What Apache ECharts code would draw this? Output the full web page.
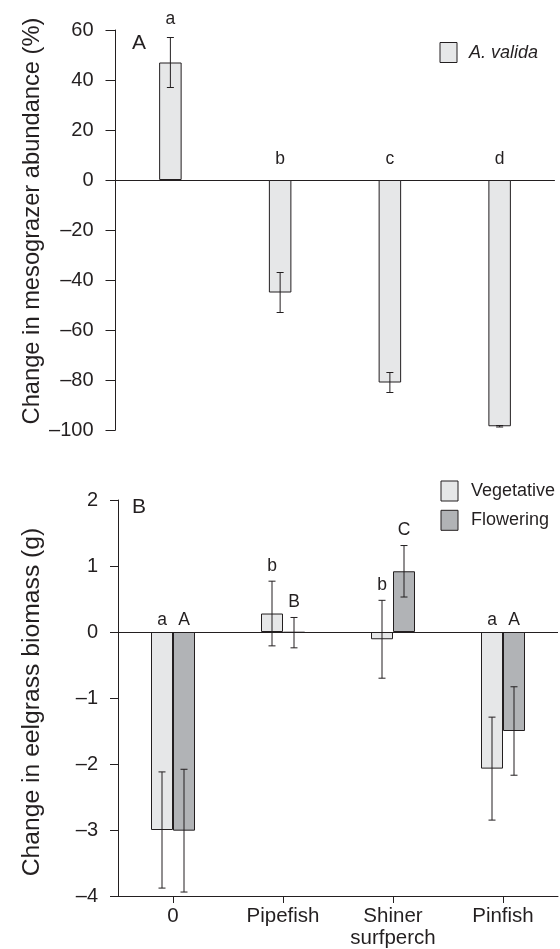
<!DOCTYPE html>
<html>
<head>
<meta charset="utf-8">
<script src="https://cdn.jsdelivr.net/npm/echarts@6/dist/echarts.min.js"></script>
<style>html,body{margin:0;padding:0;background:#fff}#c{width:560px;height:949px}</style>
</head>
<body>
<div id="c"></div>
<script>
// ---- data ----
const categories = ['0', 'Pipefish', 'Shiner\nsurfperch', 'Pinfish'];
const yTicksA = [-100, -80, -60, -40, -20, 0, 20, 40, 60];
const yTicksB = [-4, -3, -2, -1, 0, 1, 2];
const validaValues = [47, -45, -81, -98.5];
const validaErrors = [10, 8, 4, 0.3];
const validaLetters = ['a', 'b', 'c', 'd'];
const vegValues = [-3.0, 0.28, -0.11, -2.07];
const vegErrors = [0.88, 0.49, 0.59, 0.78];
const vegLetters = ['a', 'b', 'b', 'a'];
const flowValues = [-3.01, -0.01, 0.92, -1.5];
const flowErrors = [0.93, 0.23, 0.39, 0.67];
const flowLetters = ['A', 'B', 'C', 'A'];

const INK = '#231f20';
const LIGHT = '#e6e7e8';
const DARK = '#b1b3b6';
const FONT = "'Liberation Sans', Arial, Helvetica, sans-serif";
const dash = v => String(v).replace('-', '\u2013');

function errSeries(name, xi, yi, values, errors, letters, offset, liftErr, liftZero) {
  return {
    type: 'custom', name: name, xAxisIndex: xi, yAxisIndex: yi, silent: true, z: 5,
    data: values.map((v, i) => [i, v, errors[i]]),
    renderItem: function (params, api) {
      const i = api.value(0), v = api.value(1), e = api.value(2);
      const t = api.coord([i, v + e]);
      const b = api.coord([i, v - e]);
      const x = t[0] + offset;
      const lift = (v + e > 0) ? liftErr : liftZero;
      const ly = api.coord([i, Math.max(v + e, 0)])[1] - lift;
      const ls = { stroke: INK, lineWidth: 1 };
      return {
        type: 'group',
        children: [
          { type: 'line', shape: { x1: x, y1: t[1], x2: x, y2: b[1] }, style: ls },
          { type: 'line', shape: { x1: x - 3.5, y1: t[1], x2: x + 3.5, y2: t[1] }, style: ls },
          { type: 'line', shape: { x1: x - 3.5, y1: b[1], x2: x + 3.5, y2: b[1] }, style: ls },
          { type: 'text', x: x, y: ly, style: { text: letters[params.dataIndex], fill: INK,
            font: '17.5px ' + FONT, align: 'center', verticalAlign: 'bottom' } }
        ]
      };
    }
  };
}

const chart = echarts.init(document.getElementById('c'), null, { renderer: 'canvas' });
chart.setOption({
  animation: false,
  backgroundColor: '#fff',
  textStyle: { fontFamily: FONT, color: INK },
  grid: [
    { left: 115.5, top: 30, width: 439, height: 400 },
    { left: 118, top: 500, width: 440, height: 400 }
  ],
  xAxis: [
    { type: 'category', gridIndex: 0, data: categories,
      axisLine: { onZero: true, lineStyle: { color: INK, width: 1 } },
      axisTick: { show: false }, axisLabel: { show: false }, splitLine: { show: false } },
    { type: 'category', gridIndex: 1, data: categories, position: 'bottom',
      axisLine: { onZero: false, lineStyle: { color: INK, width: 1 } },
      axisTick: { show: true, alignWithLabel: true, length: 7, lineStyle: { color: INK } },
      axisLabel: { color: INK, fontSize: 20.5, margin: 9, lineHeight: 22, fontFamily: FONT, interval: 0 },
      splitLine: { show: false } }
  ],
  yAxis: [
    { type: 'value', gridIndex: 0, min: -100, max: 60, interval: 20,
      axisLine: { show: true, lineStyle: { color: INK } },
      axisTick: { show: true, length: 10, lineStyle: { color: INK } },
      axisLabel: { color: INK, fontSize: 20, margin: 22, fontFamily: FONT, formatter: dash },
      splitLine: { show: false } },
    { type: 'value', gridIndex: 1, min: -4, max: 2, interval: 1,
      axisLine: { show: true, onZero: false, lineStyle: { color: INK } },
      axisTick: { show: true, length: 8, lineStyle: { color: INK } },
      axisLabel: { color: INK, fontSize: 20, margin: 20, fontFamily: FONT, formatter: dash },
      splitLine: { show: false } }
  ],
  legend: [
    { data: [{ name: 'A. valida', icon: 'rect' }], left: 439.5, top: 42, padding: 0,
      itemWidth: 17, itemHeight: 20,
      itemStyle: { borderColor: INK, borderWidth: 1 },
      textStyle: { fontFamily: FONT, fontSize: 18, fontStyle: 'italic', color: INK, padding: [0, 0, 0, 7] } },
    { data: [{ name: 'Vegetative', icon: 'rect' }, { name: 'Flowering', icon: 'rect' }],
      left: 440.5, top: 480.5, padding: 0, orient: 'vertical', itemGap: 8.3,
      itemWidth: 17, itemHeight: 20,
      itemStyle: { borderColor: INK, borderWidth: 1 },
      textStyle: { fontFamily: FONT, fontSize: 18, color: INK, padding: [0, 0, 0, 8] } }
  ],
  graphic: [
    { type: 'text', x: 32, y: 221, rotation: Math.PI / 2,
      style: { text: 'Change in mesograzer abundance (%)', font: '23.7px ' + FONT, fill: INK, align: 'center', verticalAlign: 'middle' } },
    { type: 'text', x: 32, y: 702, rotation: Math.PI / 2,
      style: { text: 'Change in eelgrass biomass (g)', font: '24.7px ' + FONT, fill: INK, align: 'center', verticalAlign: 'middle' } },
    { type: 'text', x: 132, y: 43, style: { text: 'A', font: '21px ' + FONT, fill: INK, verticalAlign: 'middle' } },
    { type: 'text', x: 132, y: 507, style: { text: 'B', font: '21px ' + FONT, fill: INK, verticalAlign: 'middle' } }
  ],
  series: [
    { type: 'bar', name: 'A. valida', xAxisIndex: 0, yAxisIndex: 0, data: validaValues, barWidth: 22.5,
      itemStyle: { color: LIGHT, borderColor: INK, borderWidth: 1 } },
    errSeries('errA', 0, 0, validaValues, validaErrors, validaLetters, 0, 9, 12),
    { type: 'bar', name: 'Vegetative', xAxisIndex: 1, yAxisIndex: 1, data: vegValues, barWidth: 22, barGap: '0%',
      itemStyle: { color: LIGHT, borderColor: INK, borderWidth: 1 },
      markLine: { silent: true, symbol: 'none', label: { show: false },
        lineStyle: { color: INK, width: 1, type: 'solid' }, data: [{ yAxis: 0 }] } },
    { type: 'bar', name: 'Flowering', xAxisIndex: 1, yAxisIndex: 1, data: flowValues, barWidth: 22, barGap: '0%',
      itemStyle: { color: DARK, borderColor: INK, borderWidth: 1 } },
    errSeries('errVeg', 1, 1, vegValues, vegErrors, vegLetters, -11, 6, 3),
    errSeries('errFlow', 1, 1, flowValues, flowErrors, flowLetters, 11, 6, 3)
  ]
});
</script>
</body>
</html>
